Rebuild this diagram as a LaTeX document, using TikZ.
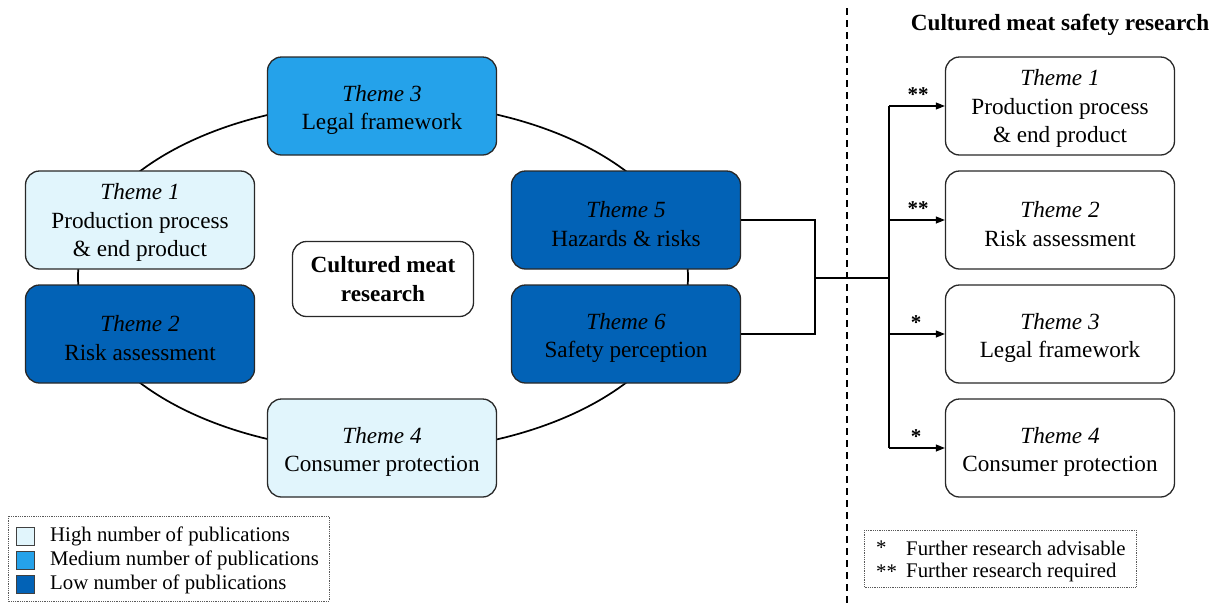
\documentclass[tikz,border=0pt]{standalone}
\usepackage{fontspec}
\setmainfont{Liberation Serif}
\usetikzlibrary{arrows.meta}
\definecolor{lowpub}{RGB}{2,98,182}
\definecolor{medpub}{RGB}{37,162,234}
\definecolor{highpub}{RGB}{225,245,252}
\definecolor{edge}{RGB}{40,40,40}
\tikzset{
  theme/.style={draw=edge, line width=1.3pt, rounded corners=14pt,
    minimum width=229pt, minimum height=98pt, inner sep=0pt},
  themetext/.style={align=center, font=\fontsize{23.2}{28.5}\selectfont,
    inner sep=0pt, yshift=-4pt},
  themetextiii/.style={themetext, yshift=1.5pt},
  two/.style={label={[themetext]center:{#1}}},
  three/.style={label={[themetextiii]center:{#1}}},
  high/.style={theme, fill=highpub},
  medium/.style={theme, fill=medpub},
  low/.style={theme, fill=lowpub},
  plain/.style={theme, fill=white},
  link/.style={line width=1.1pt, draw=black},
  arrowlink/.style={link, -{Triangle[length=9pt,width=7pt]}},
  star/.style={font=\fontsize{21}{21}\selectfont\bfseries, inner sep=0pt},
  keybox/.style={draw=gray!70!black, line width=0.8pt, densely dotted},
  swatch/.style={draw=black!75, line width=1pt, minimum size=18pt, inner sep=0pt},
  keytext/.style={anchor=west, font=\fontsize{20.8}{22}\selectfont, inner sep=0pt}
}
\begin{document}
\begin{tikzpicture}[x=1pt, y=-1pt]
\useasboundingbox (0,0) rectangle (1219,603);

% ring joining the six themes
\draw[line width=1.7pt] (383,277) ellipse [x radius=305, y radius=175];

% left cluster
\node[medium, two={\textit{Theme 3}\\Legal framework}] (t3) at (382,106) {};
\node[high, three={\textit{Theme 1}\\Production process\\\& end product}] (t1) at (140,220) {};
\node[low, two={\textit{Theme 2}\\Risk assessment}] (t2) at (140,334) {};
\node[high, two={\textit{Theme 4}\\Consumer protection}] (t4) at (382,448) {};
\node[low, two={\textit{Theme 5}\\Hazards \& risks}] (t5) at (626,220) {};
\node[low, two={\textit{Theme 6}\\Safety perception}] (t6) at (626,334) {};
\node[theme, fill=white, minimum width=181pt, minimum height=75pt, align=center,
      font=\fontsize{23.2}{28.5}\selectfont\bfseries] (core) at (383,279) {Cultured meat\\research};

% divider
\draw[line width=1.2pt, dash pattern=on 7pt off 5pt] (847,8) -- (847,603);

% right column
\node[font=\fontsize{23.2}{26}\selectfont\bfseries, anchor=center] (title) at (1060,25) {Cultured meat safety research};
\node[plain, three={\textit{Theme 1}\\Production process\\\& end product}] (r1) at (1060,106) {};
\node[plain, two={\textit{Theme 2}\\Risk assessment}] (r2) at (1060,220) {};
\node[plain, two={\textit{Theme 3}\\Legal framework}] (r3) at (1060,334) {};
\node[plain, two={\textit{Theme 4}\\Consumer protection}] (r4) at (1060,448) {};

% bracket from themes 5 and 6 to the safety research column
\coordinate (merge) at (815,278);
\coordinate (trunk) at (889,278);
\coordinate (btop) at (889,106);
\coordinate (bbot) at (889,448);
\draw[link] (t5.east) -| (merge);
\draw[link] (t6.east) -| (merge);
\draw[link] (merge) -- (trunk);
\draw[link] (btop) -- (bbot);
\draw[arrowlink] (btop) -- (r1.west);
\draw[arrowlink] (889,220) -- (r2.west);
\draw[arrowlink] (889,334) -- (r3.west);
\draw[arrowlink] (bbot) -- (r4.west);
\node[star] (s1) at (918,95) {**};
\node[star] (s2) at (918,209) {**};
\node[star] (s3) at (916,323) {*};
\node[star] (s4) at (916,437) {*};

% legend: publication counts
\draw[keybox] (8,516) rectangle (329,601);
\node[swatch, fill=highpub] (k1) at (25,536) {};
\node[swatch, fill=medpub]  (k2) at (25,560) {};
\node[swatch, fill=lowpub]  (k3) at (25,584) {};
\node[keytext] (l1) at (50,536) {High number of publications};
\node[keytext] (l2) at (50,560) {Medium number of publications};
\node[keytext] (l3) at (50,584) {Low number of publications};

% legend: research need
\draw[keybox] (864,530) rectangle (1136,587);
\node[keytext] (m1) at (876,548) {*};
\node[keytext] (m2) at (876,572) {**};
\node[keytext] (n1) at (906,548) {Further research advisable};
\node[keytext] (n2) at (906,572) {Further research required};
\end{tikzpicture}
\end{document}
